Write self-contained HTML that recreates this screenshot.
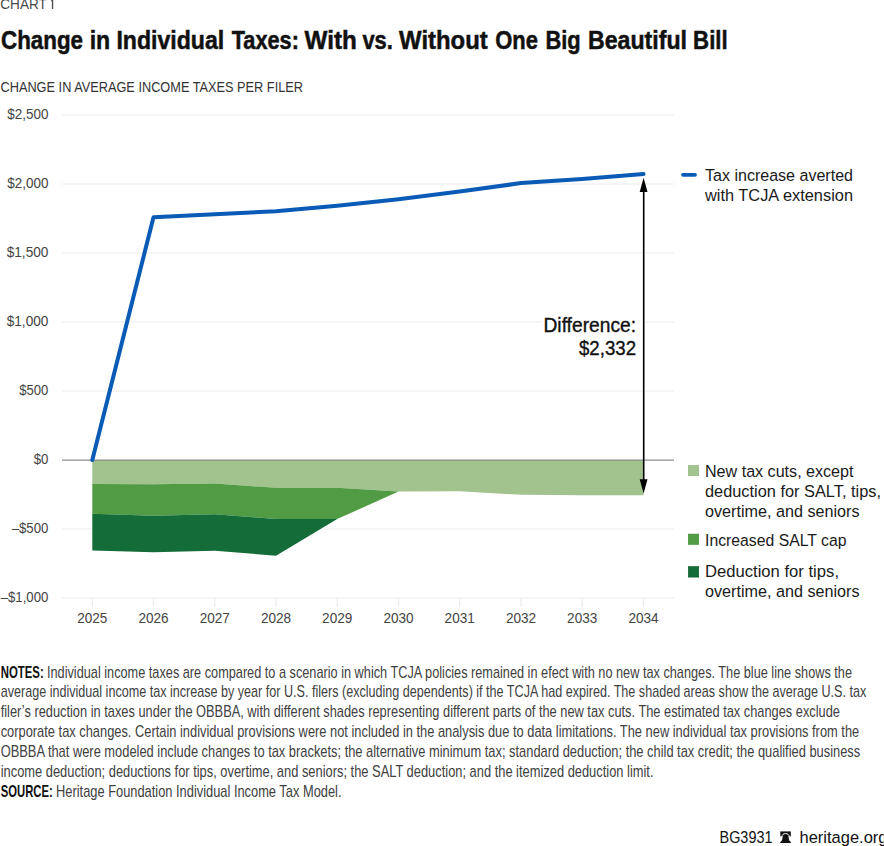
<!DOCTYPE html>
<html><head><meta charset="utf-8">
<style>
html,body{margin:0;padding:0;background:#fff;}
body{width:884px;height:846px;overflow:hidden;position:relative;}
svg{position:absolute;left:0;top:0;}
text{font-family:"Liberation Sans",sans-serif;}
.ax{fill:#444;font-size:14.5px;}
.al{fill:#444;font-size:15.4px;}
.lg{fill:#1a1a1a;font-size:16.7px;}
.nt{fill:#404040;font-size:15.7px;}
.ntb{fill:#111;font-weight:bold;}
.ttl{font-size:25px;font-weight:bold;fill:#111;stroke:#111;stroke-width:0.5;}
</style></head>
<body>
<svg width="884" height="846" viewBox="0 0 884 846">
<!-- header -->
<text id="c1" x="0.3" y="9" class="ax" style="fill:#4a4a4a" textLength="46.5" lengthAdjust="spacingAndGlyphs">CHART</text>
<path fill="#4a4a4a" d="M51.9 -0.5 H53.2 V9 H51.9 Z M50.6 1.3 L51.9 -0.3 V1.1 Z"/>
<g class="ttl">
<text id="t1" x="1.00" y="48.9" textLength="82.00" lengthAdjust="spacingAndGlyphs">Change</text>
<text id="t2" x="89.70" y="48.9" textLength="20.50" lengthAdjust="spacingAndGlyphs">in</text>
<text id="t3" x="116.40" y="48.9" textLength="107.80" lengthAdjust="spacingAndGlyphs">Individual</text>
<text id="t4" x="231.70" y="48.9" textLength="67.20" lengthAdjust="spacingAndGlyphs">Taxes:</text>
<text id="t5" x="304.50" y="48.9" textLength="52.30" lengthAdjust="spacingAndGlyphs">With</text>
<text id="t6" x="362.40" y="48.9" textLength="30.50" lengthAdjust="spacingAndGlyphs">vs.</text>
<text id="t7" x="399.10" y="48.9" textLength="88.60" lengthAdjust="spacingAndGlyphs">Without</text>
<text id="t8" x="495.20" y="48.9" textLength="42.70" lengthAdjust="spacingAndGlyphs">One</text>
<text id="t9" x="545.40" y="48.9" textLength="35.30" lengthAdjust="spacingAndGlyphs">Big</text>
<text id="t10" x="588.00" y="48.9" textLength="99.00" lengthAdjust="spacingAndGlyphs">Beautiful</text>
<text id="t11" x="693.10" y="48.9" textLength="34.60" lengthAdjust="spacingAndGlyphs">Bill</text>
</g>
<text id="sub" x="0.50" y="91.8" class="ax" style="fill:#333" textLength="302.50" lengthAdjust="spacingAndGlyphs">CHANGE IN AVERAGE INCOME TAXES PER FILER</text>

<!-- gridlines -->
<g stroke="#ececec" stroke-width="1.2" fill="none">
<line x1="62" y1="115" x2="674" y2="115"/>
<line x1="62" y1="184" x2="674" y2="184"/>
<line x1="62" y1="253" x2="674" y2="253"/>
<line x1="62" y1="322" x2="674" y2="322"/>
<line x1="62" y1="391" x2="674" y2="391"/>
<line x1="62" y1="529" x2="674" y2="529"/>
<line x1="62" y1="598" x2="674" y2="598"/>
<path d="M92.3 598V607M153.5 598V607M214.8 598V607M276 598V607M337.2 598V607M398.5 598V607M459.7 598V607M521 598V607M582.2 598V607M643.5 598V607"/>
</g>

<!-- y labels -->
<g class="al">
<text id="y0" x="7.20" y="119" textLength="41.20" lengthAdjust="spacingAndGlyphs">$2,500</text>
<text id="y1" x="7.20" y="188" textLength="41.20" lengthAdjust="spacingAndGlyphs">$2,000</text>
<text id="y2" x="6.70" y="257" textLength="41.70" lengthAdjust="spacingAndGlyphs">$1,500</text>
<text id="y3" x="6.70" y="326" textLength="41.70" lengthAdjust="spacingAndGlyphs">$1,000</text>
<text id="y4" x="19.20" y="395" textLength="29.20" lengthAdjust="spacingAndGlyphs">$500</text>
<text id="y5" x="33.70" y="464" textLength="14.70" lengthAdjust="spacingAndGlyphs">$0</text>
<text id="y6" x="11.70" y="533" textLength="36.70" lengthAdjust="spacingAndGlyphs">&#8211;$500</text>
<text id="y7" x="0.70" y="602" textLength="47.70" lengthAdjust="spacingAndGlyphs">&#8211;$1,000</text>
</g>
<!-- x labels -->
<g class="al" text-anchor="middle">
<text x="92.3" y="623.4" textLength="30.2" lengthAdjust="spacingAndGlyphs">2025</text>
<text x="153.5" y="623.4" textLength="30.2" lengthAdjust="spacingAndGlyphs">2026</text>
<text x="214.8" y="623.4" textLength="30.2" lengthAdjust="spacingAndGlyphs">2027</text>
<text x="276" y="623.4" textLength="30.2" lengthAdjust="spacingAndGlyphs">2028</text>
<text x="337.2" y="623.4" textLength="30.2" lengthAdjust="spacingAndGlyphs">2029</text>
<text x="398.5" y="623.4" textLength="30.2" lengthAdjust="spacingAndGlyphs">2030</text>
<text x="459.7" y="623.4" textLength="30.2" lengthAdjust="spacingAndGlyphs">2031</text>
<text x="521" y="623.4" textLength="30.2" lengthAdjust="spacingAndGlyphs">2032</text>
<text x="582.2" y="623.4" textLength="30.2" lengthAdjust="spacingAndGlyphs">2033</text>
<text x="643.5" y="623.4" textLength="30.2" lengthAdjust="spacingAndGlyphs">2034</text>
</g>

<!-- areas -->
<path fill="#a2c28e" d="M92.3 460 L643.5 460 L643.5 495.3 L582.2 495.3 L521 494.8 L459.7 491.3 L398.5 491.5 L337.2 487.8 L276 487.8 L214.8 483.6 L153.5 484.3 L92.3 484 Z"/>
<path fill="#529b45" d="M92.3 484 L153.5 484.3 L214.8 483.6 L276 487.8 L337.2 487.8 L398.5 491.5 L337.2 519.1 L276 519.1 L214.8 514.2 L153.5 515.7 L92.3 513.8 Z"/>
<path fill="#146c38" d="M92.3 513.8 L153.5 515.7 L214.8 514.2 L276 519.1 L337.2 519.1 L276 555.7 L214.8 550.8 L153.5 552.2 L92.3 550.4 Z"/>
<line x1="62" y1="460.1" x2="674" y2="460.1" stroke="#8c8c8c" stroke-width="1.3"/>

<!-- blue line -->
<polyline fill="none" stroke="#0a5bb6" stroke-width="4" stroke-linejoin="round" stroke-linecap="round"
 points="92.3,460 153.5,217.3 214.8,214.2 276,211.3 337.2,205.8 398.5,199.2 459.7,191.5 521,183.1 582.2,179 643.5,174"/>

<!-- difference label -->
<rect x="541.5" y="314" width="104.5" height="46" fill="#fff"/>
<text x="543.5" y="332" style="font-size:19.9px;fill:#111;stroke:#111;stroke-width:0.35" textLength="92.5" lengthAdjust="spacingAndGlyphs">Difference:</text>
<text x="579" y="355" style="font-size:19.9px;fill:#111;stroke:#111;stroke-width:0.35" textLength="57" lengthAdjust="spacingAndGlyphs">$2,332</text>
<!-- arrow -->
<line x1="643.7" y1="188" x2="643.7" y2="483" stroke="#000" stroke-width="1.6"/>
<path fill="#000" d="M643.6 177.8 L647.5 192 L639.7 192 Z M643.6 493.4 L647.5 479.3 L639.7 479.3 Z"/>

<!-- legends -->
<line x1="683" y1="174.8" x2="695" y2="174.8" stroke="#0a5bb6" stroke-width="3.8" stroke-linecap="round"/>
<text x="705" y="181.2" class="lg" textLength="148" lengthAdjust="spacingAndGlyphs">Tax increase averted</text>
<text x="705" y="201.4" class="lg" textLength="148" lengthAdjust="spacingAndGlyphs">with TCJA extension</text>

<rect x="688.3" y="465.5" width="10.4" height="10.2" fill="#a2c28e" stroke="#8ab877" stroke-width="0.6"/>
<text x="705" y="477.4" class="lg" textLength="148.5" lengthAdjust="spacingAndGlyphs">New tax cuts, except</text>
<text x="705" y="497.2" class="lg" textLength="176" lengthAdjust="spacingAndGlyphs">deduction for SALT, tips,</text>
<text x="705" y="516.9" class="lg" textLength="154.5" lengthAdjust="spacingAndGlyphs">overtime, and seniors</text>

<rect x="688.3" y="534.1" width="10.4" height="10.3" fill="#529b45" stroke="#3a8c30" stroke-width="0.6"/>
<text x="705" y="546" class="lg" textLength="141.5" lengthAdjust="spacingAndGlyphs">Increased SALT cap</text>

<rect x="688.3" y="566.6" width="10.4" height="10.5" fill="#146c38" stroke="#0a5a28" stroke-width="0.6"/>
<text x="705" y="577.4" class="lg" textLength="134" lengthAdjust="spacingAndGlyphs">Deduction for tips,</text>
<text x="705" y="597.3" class="lg" textLength="154.5" lengthAdjust="spacingAndGlyphs">overtime, and seniors</text>

<!-- notes -->
<g class="nt">
<text x="0.7" y="677.6" class="ntb" textLength="43" lengthAdjust="spacingAndGlyphs">NOTES:</text>
<text x="47" y="677.6" textLength="805" lengthAdjust="spacingAndGlyphs">Individual income taxes are compared to a scenario in which TCJA policies remained in efect with no new tax changes. The blue line shows the</text>
<text x="0.7" y="697.3" textLength="865.5" lengthAdjust="spacingAndGlyphs">average individual income tax increase by year for U.S. filers (excluding dependents) if the TCJA had expired. The shaded areas show the average U.S. tax</text>
<text x="0.7" y="717" textLength="839.3" lengthAdjust="spacingAndGlyphs">filer’s reduction in taxes under the OBBBA, with different shades representing different parts of the new tax cuts. The estimated tax changes exclude</text>
<text x="0.7" y="736.8" textLength="858.5" lengthAdjust="spacingAndGlyphs">corporate tax changes. Certain individual provisions were not included in the analysis due to data limitations. The new individual tax provisions from the</text>
<text x="0.7" y="756.7" textLength="859.5" lengthAdjust="spacingAndGlyphs">OBBBA that were modeled include changes to tax brackets; the alternative minimum tax; standard deduction; the child tax credit; the qualified business</text>
<text x="0.7" y="776.6" textLength="652.8" lengthAdjust="spacingAndGlyphs">income deduction; deductions for tips, overtime, and seniors; the SALT deduction; and the itemized deduction limit.</text>
<text x="0.7" y="796.5" class="ntb" textLength="52" lengthAdjust="spacingAndGlyphs">SOURCE:</text>
<text x="56" y="796.5" textLength="285.5" lengthAdjust="spacingAndGlyphs">Heritage Foundation Individual Income Tax Model.</text>
</g>

<!-- footer -->
<text x="719.5" y="843.3" style="font-size:16.3px;fill:#111" textLength="53" lengthAdjust="spacingAndGlyphs">BG3931</text>
<rect x="780.3" y="831.4" width="10.5" height="5" fill="#111"/>
<path fill="#111" d="M782.6 837 C782.6 834.3 788.6 834.3 788.6 837 C788.9 840.4 789.6 841.6 790.9 842 V843.1 H780.2 V842 C781.6 841.6 782.3 840.4 782.6 837 Z"/>
<path fill="none" stroke="#fff" stroke-width="1" d="M781.8 837.2 C781.8 832.3 789.4 832.3 789.4 837.2"/>
<text x="799.5" y="843.1" style="font-size:16.3px;fill:#111" textLength="88" lengthAdjust="spacingAndGlyphs">heritage.org</text>
</svg>
</body></html>
